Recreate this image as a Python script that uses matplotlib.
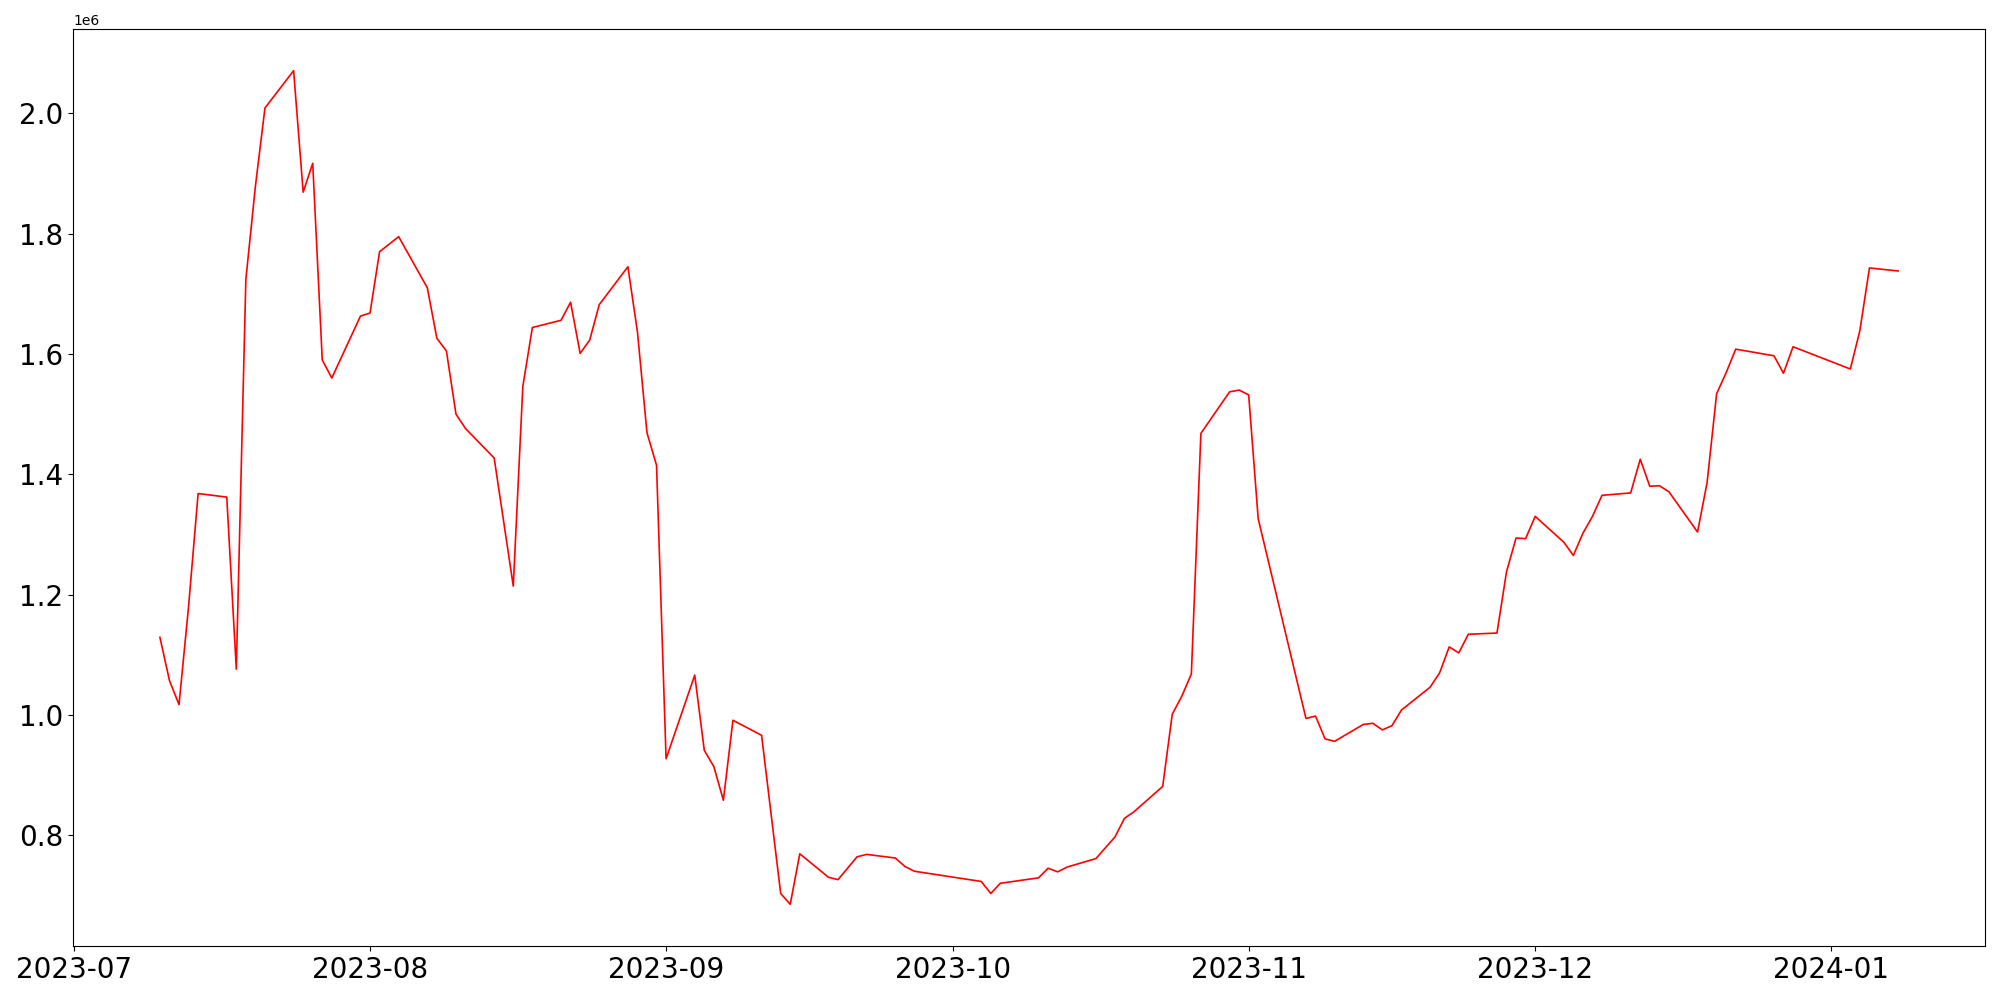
import pandas as pd
import matplotlib
matplotlib.use('Agg')
import matplotlib.pyplot as plt

# trading days (KRX calendar) and daily values
dates = [
    '2023-07-10', '2023-07-11', '2023-07-12', '2023-07-13', '2023-07-14',
    '2023-07-17', '2023-07-18', '2023-07-19', '2023-07-20', '2023-07-21',
    '2023-07-24', '2023-07-25', '2023-07-26', '2023-07-27', '2023-07-28',
    '2023-07-31', '2023-08-01', '2023-08-02', '2023-08-04',
    '2023-08-07', '2023-08-08', '2023-08-09', '2023-08-10', '2023-08-11',
    '2023-08-14', '2023-08-16', '2023-08-17', '2023-08-18',
    '2023-08-21', '2023-08-22', '2023-08-23', '2023-08-24', '2023-08-25',
    '2023-08-28', '2023-08-29', '2023-08-30', '2023-08-31', '2023-09-01',
    '2023-09-04', '2023-09-05', '2023-09-06', '2023-09-07', '2023-09-08',
    '2023-09-11', '2023-09-13', '2023-09-14', '2023-09-15',
    '2023-09-18', '2023-09-19', '2023-09-21', '2023-09-22',
    '2023-09-25', '2023-09-26', '2023-09-27',
    '2023-10-04', '2023-10-05', '2023-10-06',
    '2023-10-10', '2023-10-11', '2023-10-12', '2023-10-13',
    '2023-10-16', '2023-10-18', '2023-10-19', '2023-10-20',
    '2023-10-23', '2023-10-24', '2023-10-25', '2023-10-26', '2023-10-27',
    '2023-10-30', '2023-10-31', '2023-11-01', '2023-11-02',
    '2023-11-07', '2023-11-08', '2023-11-09', '2023-11-10',
    '2023-11-13', '2023-11-14', '2023-11-15', '2023-11-16', '2023-11-17',
    '2023-11-20', '2023-11-21', '2023-11-22', '2023-11-23', '2023-11-24',
    '2023-11-27', '2023-11-28', '2023-11-29', '2023-11-30', '2023-12-01',
    '2023-12-04', '2023-12-05', '2023-12-06', '2023-12-07', '2023-12-08',
    '2023-12-11', '2023-12-12', '2023-12-13', '2023-12-14', '2023-12-15',
    '2023-12-18', '2023-12-19', '2023-12-20', '2023-12-21', '2023-12-22',
    '2023-12-26', '2023-12-27', '2023-12-28',
    '2024-01-03', '2024-01-04', '2024-01-05', '2024-01-08',
]

values = [
    1.129, 1.057, 1.017, 1.180, 1.368,
    1.362, 1.076, 1.724, 1.879, 2.009,
    2.071, 1.869, 1.917, 1.590, 1.560,
    1.663, 1.668, 1.770, 1.795,
    1.710, 1.626, 1.605, 1.500, 1.476,
    1.427, 1.214, 1.546, 1.644,
    1.656, 1.686, 1.601, 1.623, 1.682,
    1.745, 1.637, 1.469, 1.415, 0.927,
    1.066, 0.941, 0.914, 0.858, 0.991,
    0.966, 0.703, 0.685, 0.769,
    0.730, 0.726, 0.764, 0.768,
    0.762, 0.748, 0.740,
    0.723, 0.703, 0.720,
    0.729, 0.745, 0.739, 0.747,
    0.761, 0.797, 0.828, 0.839,
    0.881, 1.001, 1.031, 1.068, 1.468,
    1.537, 1.540, 1.532, 1.326,
    0.994, 0.998, 0.960, 0.956,
    0.984, 0.986, 0.975, 0.982, 1.008,
    1.046, 1.070, 1.113, 1.103, 1.134,
    1.136, 1.238, 1.294, 1.293, 1.330,
    1.287, 1.265, 1.302, 1.330, 1.365,
    1.369, 1.425, 1.380, 1.381, 1.371,
    1.304, 1.386, 1.534, 1.569, 1.608,
    1.597, 1.568, 1.612,
    1.575, 1.639, 1.743, 1.738,
]

x = pd.to_datetime(dates)
y = [v * 1e6 for v in values]

fig = plt.figure(figsize=(20, 10), dpi=100)
ax = fig.add_axes([0.0365, 0.054, 0.956, 0.917])
ax.plot(x, y, color='red', linewidth=1.2)
plt.xticks(fontsize=20)
plt.yticks(fontsize=20)

fig.savefig('out.png', dpi=100)
